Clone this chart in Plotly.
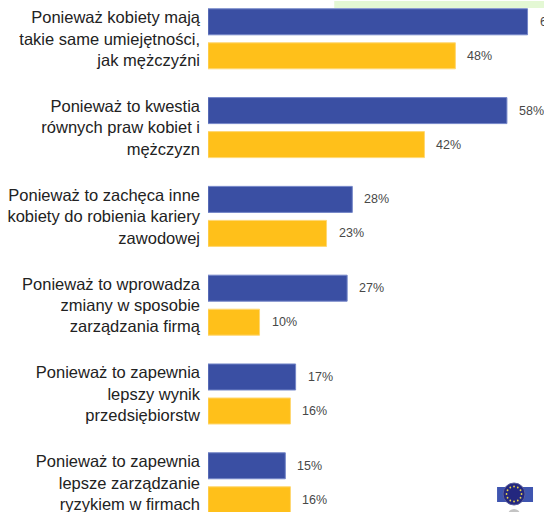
import math
import plotly.graph_objects as go

categories = [
    "Ponieważ kobiety mają<br>takie same umiejętności,<br>jak mężczyźni",
    "Ponieważ to kwestia<br>równych praw kobiet i<br>mężczyzn",
    "Ponieważ to zachęca inne<br>kobiety do robienia kariery<br>zawodowej",
    "Ponieważ to wprowadza<br>zmiany w sposobie<br>zarządzania firmą",
    "Ponieważ to zapewnia<br>lepszy wynik<br>przedsiębiorstw",
    "Ponieważ to zapewnia<br>lepsze zarządzanie<br>ryzykiem w firmach",
]
blue_values = [62, 58, 28, 27, 17, 15]
orange_values = [48, 42, 23, 10, 16, 16]

BLUE = "#3A4FA3"
ORANGE = "#FFC01A"
W, H = 544, 512
LEFT = 207.6

# Shapes are placed in pixels, then converted to paper coordinates
def px(x):
    return (x - LEFT) / (W - LEFT)

def py(y):
    return 1 - y / H

fig = go.Figure()
positions = list(range(len(categories)))
for name, values, color, edge in [
    ("niebieski", blue_values, BLUE, "#7486C8"),
    ("pomarańczowy", orange_values, ORANGE, "#FFD873"),
]:
    fig.add_trace(go.Bar(
        y=positions, x=values, name=name, orientation="h",
        marker=dict(color=color, line=dict(color=edge, width=1)),
        hoverinfo="skip",
    ))

# Percentage labels sit a fixed distance beyond each bar end
annotations = []
for i in positions:
    for values, dy in ((blue_values, -17), (orange_values, 17)):
        annotations.append(dict(
            x=values[i], y=i, xref="x", yref="y", text=f"{values[i]}%",
            showarrow=False, xanchor="left", yanchor="middle",
            xshift=10, yshift=-dy,
            font=dict(family="Liberation Sans", size=12.5, color="#484848"),
        ))

shapes = [
    dict(type="rect", xref="paper", yref="paper", x0=px(334), x1=px(544),
         y0=py(1), y1=py(8), fillcolor="#E4F8D4", line_width=0, layer="below"),
    dict(type="rect", xref="paper", yref="paper", x0=px(497), x1=px(533),
         y0=py(487), y1=py(502), fillcolor="#3F55B0", line_width=0),
    dict(type="circle", xref="paper", yref="paper", x0=px(503), x1=px(525),
         y0=py(483), y1=py(505), fillcolor="#23277F",
         line=dict(color="#5A5F9E", width=1)),
    dict(type="circle", xref="paper", yref="paper", x0=px(508), x1=px(520),
         y0=py(509), y1=py(520), fillcolor="#C4C4C4", line_width=0),
]
# Ring of twelve stars on the emblem
for k in range(12):
    a = 2 * math.pi * k / 12
    sx, sy = 514 + 7.5 * math.cos(a), 494 + 7.5 * math.sin(a)
    shapes.append(dict(type="circle", xref="paper", yref="paper",
                       x0=px(sx - 0.9), x1=px(sx + 0.9),
                       y0=py(sy - 0.9), y1=py(sy + 0.9),
                       fillcolor="#E8D24A", line_width=0))

fig.update_layout(
    width=W, height=H, autosize=False,
    margin=dict(l=LEFT, r=0, t=0, b=0),
    paper_bgcolor="white", plot_bgcolor="white",
    barmode="group", bargap=0.234, bargroupgap=0.235,
    showlegend=False,
    annotations=annotations, shapes=shapes,
    xaxis=dict(range=[0, (W - LEFT) / 5.16], visible=False, fixedrange=True),
    yaxis=dict(
        range=[5.329, -0.437], tickmode="array", tickvals=positions,
        ticktext=categories, showgrid=False, zeroline=False, showline=False,
        ticks="", ticklabelstandoff=7, fixedrange=True, automargin=False,
        ticklabeloverflow="allow",
        tickfont=dict(family="Liberation Sans", size=16.5, color="#222222"),
    ),
)

fig.write_html("out.html", config={"displayModeBar": False})
